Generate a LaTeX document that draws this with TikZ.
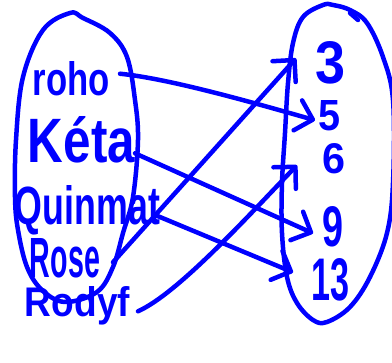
\documentclass[tikz,border=0pt]{standalone}
\usepackage{fontspec}
\usepackage{graphicx}
\setmainfont{Liberation Sans}
\usetikzlibrary{arrows.meta}
\begin{document}
\begin{tikzpicture}[x=1pt,y=-1pt,
 ink/.style={draw=blue, line width=4.5pt, line cap=round, line join=round},
 arr/.style={ink, -{Straight Barb[angle=90:22pt, round]}},
 lbl/.style={inner sep=0pt, outer sep=0pt, anchor=north west, text=blue, font=\bfseries},
]
\useasboundingbox (0,0) rectangle (392,363);
\fill[white] (0,0) rectangle (392,363);
% left ellipse
\draw[ink] plot[smooth cycle, tension=0.6] coordinates {
 (70,13) (43,30) (23,77) (16,140) (15,197) (18,230) (27,267) (42,290)
 (65,302) (97,292) (113,267) (123,233) (133,197) (138,140) (135,100)
 (127,57) (110,33) (83,18)};
% right ellipse
\draw[ink] plot[smooth cycle, tension=0.6] coordinates {
 (323,5) (303,17) (293,43) (288,83) (285,133) (282,183) (282,233)
 (287,277) (297,303) (313,320) (327,322) (350,307) (370,277) (387,233)
 (393,183) (393,100) (383,57) (367,23) (350,10) (333,5)};
\draw[ink] (350,13) -- (358,20);
% left labels
\node[lbl] (roho) at (33,62) {\resizebox{77pt}{34pt}{roho}};
\node[lbl] (keta) at (28,116) {\resizebox{107pt}{46pt}{Kéta}};
\node[lbl] (quin) at (15,186) {\resizebox{145pt}{39pt}{Quinmat}};
\node[lbl] (rose) at (30,238) {\resizebox{70pt}{39pt}{Rose}};
\node[lbl] (rodyf) at (25,287) {\resizebox{105pt}{30pt}{Rodyf}};
% right labels
\node[lbl] (three) at (315,41) {\resizebox{30pt}{42pt}{3}};
\node[lbl] (five) at (318,100) {\resizebox{22pt}{30pt}{5}};
\node[lbl] (six) at (322,144) {\resizebox{23pt}{30pt}{6}};
\node[lbl] (nine) at (322,206) {\resizebox{21pt}{40pt}{9}};
\node[lbl] (thirteen) at (312,258) {\resizebox{38pt}{42pt}{13}};
% connectors
\draw[arr] ([shift={(10,-5.5)}]roho.east) .. controls +(50,5) and +(-60,-17) .. ([shift={(-3,5)}]five.west);
\draw[arr] ([shift={(0,14)}]keta.east) -- ([shift={(-9,7)}]nine.west);
\draw[arr] ([shift={(-3,5)}]quin.east) -- ([shift={(-19,-7)}]thirteen.west);
\draw[arr] ([shift={(13,4.5)}]rose.east) -- ([shift={(-19,-4)}]three.west);
\draw[arr] ([shift={(8,5)}]rodyf.east) .. controls +(40,-18) and +(-50,52) .. ([shift={(-25,6)}]six.west);
\end{tikzpicture}
\end{document}
